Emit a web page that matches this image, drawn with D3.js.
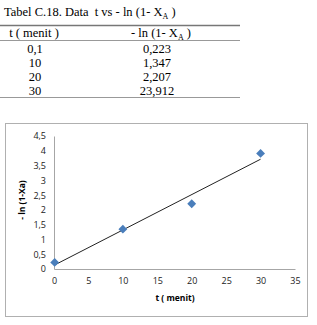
<!DOCTYPE html>
<html>
<head>
<meta charset="utf-8">
<script src="https://cdn.jsdelivr.net/npm/d3@7"></script>
<style>
body { margin: 0; background: #fff; }
text { white-space: pre; }
</style>
</head>
<body>
<div id="chart"></div>
<script>
// table contents (as printed)
var tableTitle = "Tabel C.18. Data  t vs - ln (1- X";
var colT = ["0,1", "10", "20", "30"];
var colLn = ["0,223", "1,347", "2,207", "23,912"];

// plotted points
var tValues = [0.1, 10, 20, 30];
var lnValues = [0.223, 1.347, 2.207, 3.912];
var xTicks = [0, 5, 10, 15, 20, 25, 30, 35];
var yTicks = [0, 0.5, 1, 1.5, 2, 2.5, 3, 3.5, 4, 4.5];

var svg = d3.select("#chart").append("svg")
    .attr("width", 317)
    .attr("height", 325)

var serif = "'Liberation Serif', 'Times New Roman', serif";

// ---- table ----
let title = svg.append("text")
    .attr("x", 4).attr("y", 16)
    .style("font-family", serif).style("font-size", "12.5px")
    .text(tableTitle)
title.append("tspan").attr("dy", 3).style("font-size", "8px").text("A")
title.append("tspan").attr("dy", -3).text(" )")

svg.append("line").attr("x1", 0).attr("x2", 240).attr("y1", 25.5).attr("y2", 25.5)
    .attr("stroke", "#777").attr("stroke-width", 1.3)
svg.append("line").attr("x1", 0).attr("x2", 240).attr("y1", 40.5).attr("y2", 40.5)
    .attr("stroke", "#999").attr("stroke-width", 1)
svg.append("line").attr("x1", 0).attr("x2", 240).attr("y1", 97.5).attr("y2", 97.5)
    .attr("stroke", "#999").attr("stroke-width", 1)

svg.append("text").attr("x", 34).attr("y", 37)
    .style("font-family", serif).style("font-size", "12.5px").style("text-anchor", "middle")
    .text("t ( menit )")
let h2 = svg.append("text").attr("x", 161).attr("y", 37)
    .style("font-family", serif).style("font-size", "12.5px").style("text-anchor", "middle")
h2.append("tspan").text("- ln (1- X")
h2.append("tspan").attr("dy", 3).style("font-size", "8px").text("A")
h2.append("tspan").attr("dy", -3).text(" )")

let rowY = d3.scaleBand().domain(d3.range(colT.length)).range([42, 98])
svg.selectAll(".c1").data(colT).enter().append("text")
    .attr("x", 35).attr("y", (d, i) => rowY(i) + rowY.bandwidth() / 2 + 4)
    .style("font-family", serif).style("font-size", "12.5px").style("text-anchor", "middle")
    .text(d => d)
svg.selectAll(".c2").data(colLn).enter().append("text")
    .attr("x", 157).attr("y", (d, i) => rowY(i) + rowY.bandwidth() / 2 + 4)
    .style("font-family", serif).style("font-size", "12.5px").style("text-anchor", "middle")
    .text(d => d)

// ---- chart ----
svg.append("rect").attr("x", 5.5).attr("y", 123.5).attr("width", 302).attr("height", 193)
    .attr("fill", "#fff").attr("stroke", "#b0b0b0")

let x = d3.scaleLinear().domain([0, 35]).range([54, 295])
let y = d3.scaleLinear().domain([0, 4.5]).range([269, 136])
let fmt = d => String(d).replace(".", ",")
let sans = "'Open Sans', 'Liberation Sans', sans-serif"

let xAxis = svg.append("g").attr("transform", "translate(0,269)")
    .call(d3.axisBottom(x).tickValues(xTicks).tickSize(0).tickPadding(9).tickFormat(fmt))
let yAxis = svg.append("g").attr("transform", "translate(54,0)")
    .call(d3.axisLeft(y).tickValues(yTicks).tickSize(0).tickPadding(8).tickFormat(fmt))
svg.selectAll(".domain").attr("stroke", "#a6a6a6")
svg.selectAll(".tick text").style("font-family", sans).style("font-size", "9px").attr("fill", "#222")

svg.append("text").attr("x", 175).attr("y", 301)
    .style("font-family", sans).style("font-size", "8.5px").style("font-weight", "bold")
    .style("text-anchor", "middle").text("t ( menit)")
svg.append("text").attr("transform", "translate(25,200) rotate(-90)")
    .style("font-family", sans).style("font-size", "8.5px").style("font-weight", "bold")
    .style("text-anchor", "middle").text("- ln (1-Xa)")

// linear trendline
let mx = d3.mean(tValues), my = d3.mean(lnValues)
let sxy = d3.sum(tValues, (t, i) => (t - mx) * (lnValues[i] - my))
let sxx = d3.sum(tValues, t => (t - mx) * (t - mx))
let slope = sxy / sxx, icpt = my - slope * mx
let xr = d3.extent(tValues)
svg.append("line")
    .attr("x1", x(xr[0])).attr("y1", y(icpt + slope * xr[0]))
    .attr("x2", x(xr[1])).attr("y2", y(icpt + slope * xr[1]))
    .attr("stroke", "#222").attr("stroke-width", 1)

let pts = tValues.map((t, i) => ({ t: t, v: lnValues[i] }))
svg.selectAll(".pt").data(pts).enter().append("path")
    .attr("class", "pt")
    .attr("d", d3.symbol().type(d3.symbolDiamond2).size(50))
    .attr("transform", d => "translate(" + x(d.t) + "," + y(d.v) + ")")
    .attr("fill", "#4a7ebb")
</script>
</body>
</html>
